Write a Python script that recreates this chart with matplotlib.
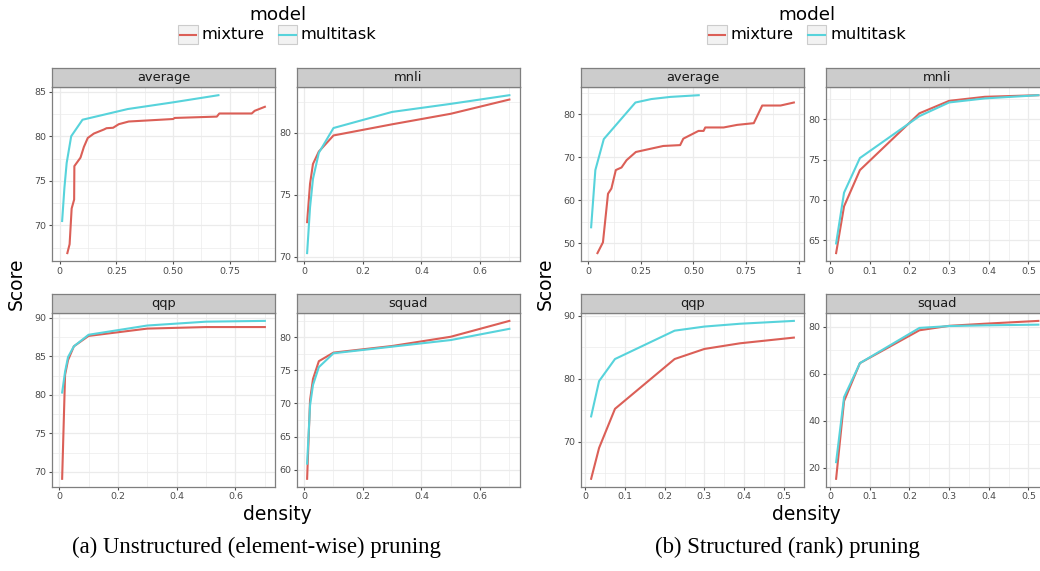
import matplotlib
matplotlib.use("Agg")
import matplotlib.pyplot as plt
from matplotlib.ticker import MultipleLocator, AutoMinorLocator, FixedLocator, FixedFormatter
from matplotlib.patches import Rectangle
from matplotlib.lines import Line2D

W, H = 1040, 571

models = ["mixture", "multitask"]
colors = {"mixture": "#db5f57", "multitask": "#57d3db"}

# (a) unstructured (element-wise) pruning
dens_a = [0.01, 0.02, 0.03, 0.05, 0.1, 0.3, 0.5, 0.7]
a_avg_mix_x = [0.033, 0.043, 0.052, 0.063, 0.064, 0.091, 0.106, 0.123, 0.15, 0.194, 0.206,
               0.235, 0.26, 0.304, 0.5, 0.507, 0.693, 0.704, 0.847, 0.86, 0.905]
a_avg_mix_y = [66.9, 67.9, 71.9, 72.9, 76.65, 77.6, 78.8, 79.8, 80.3, 80.75, 80.9,
               80.95, 81.35, 81.65, 81.93, 82.05, 82.2, 82.55, 82.55, 82.85, 83.3]
a_avg_multi = [70.5, 74.2, 77.0, 80.0, 81.85, 83.05, 83.8, 84.6]
a_mnli_mix = [72.8, 75.9, 77.5, 78.5, 79.8, 80.7, 81.55, 82.7]
a_mnli_multi = [70.3, 74.0, 76.3, 78.4, 80.4, 81.7, 82.35, 83.05]
a_qqp_mix = [69.1, 82.6, 84.5, 86.3, 87.65, 88.6, 88.8, 88.8]
a_qqp_multi = [80.3, 83.0, 84.9, 86.3, 87.8, 89.0, 89.5, 89.6]
a_squad_mix = [58.6, 70.5, 73.7, 76.4, 77.7, 78.7, 80.1, 82.5]
a_squad_multi = [60.9, 69.7, 72.8, 75.5, 77.6, 78.6, 79.6, 81.3]

# (b) structured (rank) pruning
dens_b = [0.015, 0.035, 0.075, 0.225, 0.3, 0.39, 0.525]
b_avg_mix_x = [0.045, 0.071, 0.095, 0.111, 0.132, 0.159, 0.183, 0.227, 0.357, 0.437,
               0.452, 0.524, 0.548, 0.556, 0.643, 0.707, 0.786, 0.826, 0.913, 0.976]
b_avg_mix_y = [47.7, 50.2, 61.5, 62.7, 67.0, 67.6, 69.3, 71.2, 72.6, 72.8,
               74.3, 76.1, 76.1, 76.9, 76.9, 77.5, 77.9, 82.0, 82.0, 82.7]
b_avg_multi = [53.7, 67.0, 74.2, 82.7, 83.5, 84.0, 84.4]
b_mnli_mix = [63.4, 69.2, 73.7, 80.75, 82.3, 82.8, 83.0]
b_mnli_multi = [64.6, 70.9, 75.2, 80.4, 82.1, 82.6, 83.0]
b_qqp_mix = [64.1, 69.0, 75.2, 83.1, 84.7, 85.6, 86.5]
b_qqp_multi = [74.0, 79.6, 83.1, 87.6, 88.25, 88.7, 89.15]
b_squad_mix = [15.3, 48.4, 64.6, 78.6, 80.5, 81.4, 82.6]
b_squad_multi = [22.4, 50.1, 64.6, 79.6, 80.4, 80.7, 81.0]

# tick labels
xt_avg_a = [0, 0.25, 0.5, 0.75]
xl_avg_a = ["0", "0.25", "0.50", "0.75"]
xt_a = [0, 0.2, 0.4, 0.6]
xl_a = ["0", "0.2", "0.4", "0.6"]
xt_avg_b = [0, 0.25, 0.5, 0.75, 1]
xl_avg_b = ["0", "0.25", "0.50", "0.75", "1"]
xt_b = [0, 0.1, 0.2, 0.3, 0.4, 0.5]
xl_b = ["0", "0.1", "0.2", "0.3", "0.4", "0.5"]

panels_a = [
    ("average", (a_avg_mix_x, a_avg_mix_y), (dens_a, a_avg_multi), xt_avg_a, xl_avg_a, 5),
    ("mnli", (dens_a, a_mnli_mix), (dens_a, a_mnli_multi), xt_a, xl_a, 5),
    ("qqp", (dens_a, a_qqp_mix), (dens_a, a_qqp_multi), xt_a, xl_a, 5),
    ("squad", (dens_a, a_squad_mix), (dens_a, a_squad_multi), xt_a, xl_a, 5),
]
panels_b = [
    ("average", (b_avg_mix_x, b_avg_mix_y), (dens_b, b_avg_multi), xt_avg_b, xl_avg_b, 10),
    ("mnli", (dens_b, b_mnli_mix), (dens_b, b_mnli_multi), xt_b, xl_b, 5),
    ("qqp", (dens_b, b_qqp_mix), (dens_b, b_qqp_multi), xt_b, xl_b, 10),
    ("squad", (dens_b, b_squad_mix), (dens_b, b_squad_multi), xt_b, xl_b, 20),
]

fig = plt.figure(figsize=(W / 100, H / 100), dpi=100)
fig.patch.set_facecolor("white")


def box(x0, y0, x1, y1):
    return [x0 / W, 1 - y1 / H, (x1 - x0) / W, (y1 - y0) / H]


def ftext(x, y, s, **kw):
    fig.text(x / W, 1 - y / H, s, **kw)


rows = [(87.3, 261), (313, 486.7)]
strips = [(68.3, 87.3), (294.3, 313)]


def draw_facets(panels, cols):
    for i, (name, mix, multi, xt, xl, ystep) in enumerate(panels):
        r, c = divmod(i, 2)
        x0, x1 = cols[c]
        y0, y1 = rows[r]
        ax = fig.add_axes(box(x0, y0, x1, y1))
        ax.plot(mix[0], mix[1], color=colors["mixture"], lw=1.5, zorder=3)
        ax.plot(multi[0], multi[1], color=colors["multitask"], lw=1.5, zorder=3)
        ax.margins(0.05)
        ax.xaxis.set_major_locator(FixedLocator(xt))
        ax.xaxis.set_major_formatter(FixedFormatter(xl))
        ax.xaxis.set_minor_locator(AutoMinorLocator(2))
        ax.yaxis.set_major_locator(MultipleLocator(ystep))
        ax.yaxis.set_major_formatter(lambda v, p: f"{v:g}")
        ax.yaxis.set_minor_locator(AutoMinorLocator(2))
        ax.grid(which="major", color="#EBEBEB", lw=0.9, zorder=0)
        ax.grid(which="minor", color="#EBEBEB", lw=0.5, zorder=0)
        ax.set_axisbelow(True)
        ax.tick_params(which="major", length=2.5, width=0.8, color="#4D4D4D",
                       labelcolor="#4D4D4D", labelsize=6.8, pad=1.5)
        ax.tick_params(which="minor", length=0)
        for sp in ax.spines.values():
            sp.set_color("#7F7F7F")
            sp.set_linewidth(0.9)
        sy0, sy1 = strips[r]
        sax = fig.add_axes(box(x0, sy0, x1, sy1))
        sax.set_facecolor("#CCCCCC")
        sax.set_xticks([])
        sax.set_yticks([])
        for sp in sax.spines.values():
            sp.set_color("#7F7F7F")
            sp.set_linewidth(0.9)
        sax.text(0.5, 0.5, name, transform=sax.transAxes, ha="center", va="center",
                 fontsize=9.4, color="#1A1A1A")


def draw_legend(dx):
    ftext(278.3 + dx, 15, "model", ha="center", va="center", fontsize=13.2)
    keys = [(178.3, 201.7), (277.7, 301)]
    for m, (kx, tx) in zip(models, keys):
        fig.patches.append(Rectangle(((kx + dx) / W, 1 - 44.3 / H), 19.4 / W, 19.3 / H,
                                     transform=fig.transFigure, facecolor="#F2F2F2",
                                     edgecolor="#CCCCCC", lw=0.8))
        fig.lines.append(Line2D([(kx + dx + 1.5) / W, (kx + dx + 18) / W],
                                [1 - 34.7 / H, 1 - 34.7 / H], transform=fig.transFigure,
                                color=colors[m], lw=1.5))
        ftext(tx + dx, 34.7, m, ha="left", va="center", fontsize=11.7)


draw_facets(panels_a, [(52, 275), (297, 519.5)])
draw_facets(panels_b, [(581, 804), (826, 1048.5)])

for dx in (0, 529):
    draw_legend(dx)
    ftext(16.5 + dx, 284, "Score", rotation=90, ha="center", va="center", fontsize=13.5)
    ftext(277.5 + dx, 515, "density", ha="center", va="center", fontsize=13.5)

ftext(256.5, 552.7, "(a) Unstructured (element-wise) pruning", ha="center", va="baseline",
      fontsize=16.4, family="Liberation Serif")
ftext(787, 552.7, "(b) Structured (rank) pruning", ha="center", va="baseline",
      fontsize=16.4, family="Liberation Serif")

fig.savefig("out.png", dpi=100)
